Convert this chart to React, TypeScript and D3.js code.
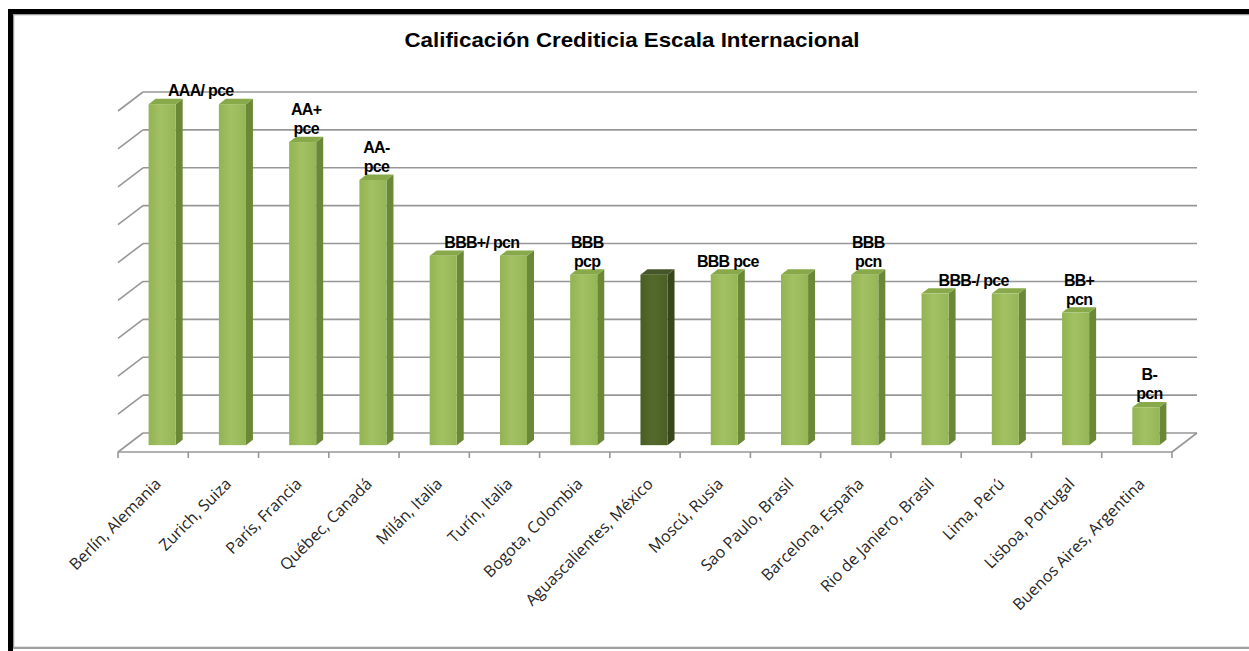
import React from "react";
import * as d3 from "d3";

// Ciudades y su calificación en escala numérica (AAA = 9 … B- = 1)
const cities = [
  "Berlín, Alemania",
  "Zurich, Suiza",
  "París, Francia",
  "Québec, Canadá",
  "Milán, Italia",
  "Turín, Italia",
  "Bogota, Colombia",
  "Aguascalientes, México",
  "Moscú, Rusia",
  "Sao Paulo, Brasil",
  "Barcelona, España",
  "Rio de Janiero, Brasil",
  "Lima, Perú",
  "Lisboa, Portugal",
  "Buenos Aires, Argentina",
];
const scores = [9, 9, 8, 7, 5, 5, 4.5, 4.5, 4.5, 4.5, 4.5, 4, 4, 3.5, 1];
const highlighted = ["Aguascalientes, México"];

// Etiquetas de calificación: texto por líneas y las barras que abarcan
const ratingText = [
  ["AAA/ pce"],
  ["AA+", "pce"],
  ["AA-", "pce"],
  ["BBB+/ pcn"],
  ["BBB", "pcp"],
  ["BBB pce"],
  ["BBB", "pcn"],
  ["BBB-/ pce"],
  ["BB+", "pcn"],
  ["B-", "pcn"],
];
const ratingFirst = [0, 2, 3, 4, 6, 8, 10, 11, 13, 14];
const ratingLast = [1, 2, 3, 5, 6, 8, 10, 12, 13, 14];

const gridValues = d3.range(0, 10);
const title = "Calificación Crediticia  Escala Internacional";

const W = 1249;
const H = 651;

export default function App() {
  // Perspectiva oblicua del gráfico 3D
  const floorLeft = 118;
  const floorRight = 1172;
  const floorFrontY = 452;
  const depth = { dx: 25, dy: -19 };
  const barFront = 0.36; // fracción de profundidad de la cara frontal
  const barDepth = 0.28;

  const x = d3
    .scaleBand<string>()
    .domain(cities)
    .range([floorLeft, floorRight])
    .paddingInner(0.615)
    .paddingOuter(0.3075);
  const h = d3.scaleLinear().domain([0, 9]).range([0, 341]);
  const step = x.step();

  const fx = depth.dx * barFront;
  const fy = depth.dy * barFront;
  const bdx = depth.dx * barDepth;
  const bdy = depth.dy * barDepth;
  const barBase = floorFrontY + fy;

  const backY0 = floorFrontY + depth.dy;
  const backX0 = floorLeft + depth.dx;
  const backX1 = floorRight + depth.dx;

  const bars = cities.map((c, i) => {
    const x0 = (x(c) as number) + fx;
    const x1 = x0 + x.bandwidth();
    const yt = barBase - h(scores[i]);
    const dark = highlighted.includes(c);
    return { c, i, x0, x1, yt, dark };
  });

  const pts = (p: number[][]) => p.map((q) => q.join(",")).join(" ");

  return (
    <svg
      width={W}
      height={H}
      style={{ position: "absolute", left: 0, top: 0, background: "#fff" }}
    >
      <defs>
        <linearGradient id="gFront" x1="0" x2="1" y1="0" y2="0">
          <stop offset="0" stopColor="#93b452" />
          <stop offset="0.45" stopColor="#a2c163" />
          <stop offset="1" stopColor="#95b656" />
        </linearGradient>
        <linearGradient id="gFrontDark" x1="0" x2="1" y1="0" y2="0">
          <stop offset="0" stopColor="#4a5d25" />
          <stop offset="0.45" stopColor="#546a2b" />
          <stop offset="1" stopColor="#4c5f26" />
        </linearGradient>
      </defs>

      {/* marco */}
      <rect x={13.5} y={14.5} width={W} height={633} fill="none" stroke="#9a9a9a" strokeWidth={1.5} />
      <line x1={8} x2={W} y1={11.5} y2={11.5} stroke="#000" strokeWidth={5} />
      <line x1={10.5} x2={10.5} y1={9} y2={H} stroke="#000" strokeWidth={5} />
      <line x1={13} x2={W} y1={648} y2={648} stroke="#a0a0a0" strokeWidth={2} />

      <text
        x={632}
        y={47}
        textAnchor="middle"
        fontFamily="'Liberation Sans', Arial, sans-serif"
        fontWeight="bold"
        fontSize={21}
        textLength={455}
        lengthAdjust="spacingAndGlyphs"
      >
        {title}
      </text>

      {/* líneas de división: pared del fondo y trazos laterales */}
      <g stroke="#979797" strokeWidth={1.6} fill="none">
        {gridValues.map((v) => {
          const yb = backY0 - h(v);
          const yf = floorFrontY - h(v);
          return (
            <g key={v}>
              <line x1={backX0} x2={backX1} y1={yb} y2={yb} />
              <line x1={floorLeft} x2={backX0} y1={yf} y2={yb} />
            </g>
          );
        })}
        <line x1={floorLeft} x2={floorRight} y1={floorFrontY} y2={floorFrontY} />
        <line x1={floorRight} x2={backX1} y1={floorFrontY} y2={backY0} />
        {d3.range(0, cities.length + 1).map((k) => (
          <line
            key={k}
            x1={floorLeft + k * step}
            x2={floorLeft + k * step}
            y1={floorFrontY}
            y2={floorFrontY + 6}
          />
        ))}
      </g>

      {/* columnas 3D */}
      {bars.map((b) => (
        <g key={b.c}>
          <polygon
            points={pts([
              [b.x1, b.yt],
              [b.x1 + bdx, b.yt + bdy],
              [b.x1 + bdx, barBase + bdy],
              [b.x1, barBase],
            ])}
            fill={b.dark ? "#37461b" : "#6b8837"}
          />
          <polygon
            points={pts([
              [b.x0, b.yt],
              [b.x1, b.yt],
              [b.x1 + bdx, b.yt + bdy],
              [b.x0 + bdx, b.yt + bdy],
            ])}
            fill={b.dark ? "#45572a" : "#87a94a"}
          />
          <rect
            x={b.x0}
            y={b.yt}
            width={b.x1 - b.x0}
            height={barBase - b.yt}
            fill={b.dark ? "url(#gFrontDark)" : "url(#gFront)"}
          />
        </g>
      ))}

      {/* etiquetas de calificación */}
      <g
        fontFamily="'Liberation Sans', Arial, sans-serif"
        fontWeight="bold"
        fontSize={16}
        letterSpacing={-0.7}
        textAnchor="middle"
        fill="#000"
      >
        {ratingText.map((lines, j) => {
          const a = bars[ratingFirst[j]];
          const z = bars[ratingLast[j]];
          const cx = ((a.x0 + a.x1) / 2 + (z.x0 + z.x1) / 2) / 2 + bdx / 2;
          const top = Math.min(a.yt, z.yt);
          const base = top - 8;
          return lines.map((t, li) => (
            <text key={`${j}-${li}`} x={cx} y={base - (lines.length - 1 - li) * 19}>
              {t}
            </text>
          ));
        })}
      </g>

      {/* nombres de las ciudades */}
      <g fontFamily="'Open Sans', sans-serif" fontSize={16} fill="#262626" textAnchor="end">
        {cities.map((c) => {
          const cx = floorLeft + (cities.indexOf(c) + 0.5) * step;
          return (
            <text key={c} transform={`translate(${cx + 9},${485}) rotate(-45)`}>
              {c}
            </text>
          );
        })}
      </g>
    </svg>
  );
}
